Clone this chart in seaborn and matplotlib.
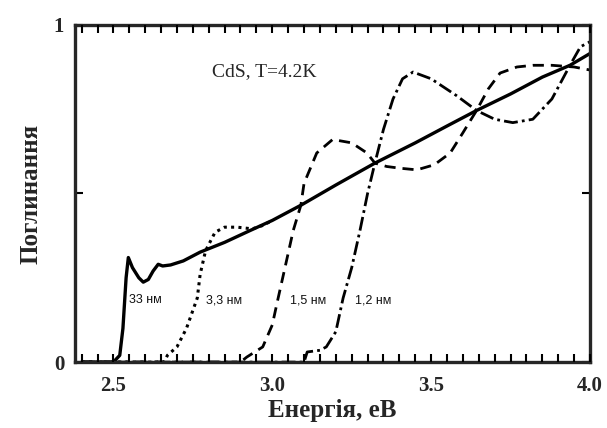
import numpy as np
import pandas as pd
import seaborn as sns
import matplotlib.pyplot as plt

# 33 nm (solid)
e33 = [2.40, 2.50, 2.52, 2.53, 2.54, 2.547, 2.56, 2.58, 2.594, 2.61, 2.625, 2.641, 2.655,
       2.68, 2.72, 2.773, 2.85, 2.93, 3.0, 3.09, 3.2, 3.323, 3.45, 3.55, 3.643, 3.75,
       3.85, 3.937, 4.0]
a33 = [0.0, 0.0, 0.02, 0.10, 0.25, 0.31, 0.28, 0.25, 0.237, 0.245, 0.27, 0.29, 0.285,
       0.288, 0.30, 0.326, 0.355, 0.39, 0.42, 0.465, 0.525, 0.59, 0.65, 0.70, 0.746, 0.795,
       0.845, 0.88, 0.915]
# 3.3 nm (dotted)
e33b = [2.40, 2.66, 2.67, 2.70, 2.73, 2.764, 2.773, 2.79, 2.82, 2.85, 2.89, 2.937, 2.97, 3.0]
a33b = [0.0, 0.0, 0.02, 0.045, 0.10, 0.19, 0.26, 0.33, 0.385, 0.40, 0.40, 0.395, 0.405, 0.42]
# 1.5 nm (dashed)
e15 = [2.40, 2.90, 2.92, 2.97, 3.0, 3.015, 3.04, 3.066, 3.09, 3.10, 3.14, 3.19, 3.25,
       3.298, 3.323, 3.36, 3.40, 3.455, 3.51, 3.56, 3.60, 3.643, 3.68, 3.717, 3.77, 3.82,
       3.88, 3.95, 4.0]
a15 = [0.0, 0.0, 0.015, 0.045, 0.11, 0.175, 0.28, 0.39, 0.465, 0.53, 0.62, 0.66, 0.65,
       0.62, 0.59, 0.58, 0.575, 0.57, 0.585, 0.62, 0.68, 0.746, 0.81, 0.857, 0.875, 0.88,
       0.88, 0.875, 0.866]
# 1.2 nm (dash-dot)
e12 = [2.40, 3.10, 3.11, 3.15, 3.17, 3.20, 3.223, 3.25, 3.276, 3.30, 3.323, 3.35, 3.38,
       3.41, 3.443, 3.50, 3.58, 3.643, 3.70, 3.757, 3.82, 3.88, 3.937, 3.97, 4.0]
a12 = [0.0, 0.0, 0.03, 0.035, 0.045, 0.09, 0.19, 0.28, 0.39, 0.50, 0.59, 0.69, 0.78,
       0.84, 0.86, 0.84, 0.79, 0.746, 0.72, 0.71, 0.72, 0.78, 0.88, 0.935, 0.95]

labels = ["33 нм", "3,3 нм", "1,5 нм", "1,2 нм"]
label_x = [2.548, 2.79, 3.055, 3.26]
label_y = [0.183, 0.183, 0.183, 0.183]

xticks = [2.5, 3.0, 3.5, 4.0]
xticklabels = ['2.5', '3.0', '3.5', '4.0']
xminor = [round(2.40 + 0.05 * i, 2) for i in range(33)]

sns.set_style('ticks')
plt.rcParams['font.family'] = ['Liberation Serif', 'DejaVu Serif']

fig = plt.figure(figsize=(6.07, 4.28), dpi=100)
ax = fig.add_axes([0.124, 0.154, 0.848, 0.788])

series = [(e33, a33, '-', 2.4), (e33b, a33b, (0, (1, 1.4)), 2.2),
          (e15, a15, (0, (4, 2.5)), 2.0), (e12, a12, (0, (5, 1.5, 1, 1.5)), 2.0)]
for e, a, ls, lw in series:
    df = pd.DataFrame(dict(E=e, A=a))
    sns.lineplot(data=df, x='E', y='A', ax=ax, color='black', lw=lw, linestyle=ls,
                 sort=False)

for t, x, y in zip(labels, label_x, label_y):
    ax.text(x, y, t, fontsize=9, family=['Liberation Sans', 'DejaVu Sans'],
            color='#111111', va='center')

ax.text(2.81, 0.86, "CdS, T=4.2K", fontsize=14, va='center')

ax.set_xlim(2.38, 4.0)
ax.set_ylim(0, 1)
ax.set_xticks(xticks, labels=xticklabels)
ax.set_xticks(xminor, minor=True)
ax.set_yticks([0, 0.5, 1], labels=['0', '', '1'])
ax.tick_params(which='both', direction='in', top=True, right=True, width=1.5,
               length=6, color='black', labelsize=15)
ax.tick_params(axis='x', pad=10)
ax.tick_params(axis='y', pad=8)
for lab in ax.get_xticklabels() + ax.get_yticklabels():
    lab.set_fontweight('bold')
for s in ax.spines.values():
    s.set_linewidth(2.4)

ax.set_xlabel("Енергія, еВ", fontsize=18, fontweight='bold', labelpad=2)
ax.set_ylabel("Поглинання", fontsize=18, fontweight='bold', labelpad=8)

# make sure the inward x ticks are drawn on top of everything
fig.canvas.draw()
for tk in ax.xaxis.get_major_ticks() + ax.xaxis.get_minor_ticks():
    for ln in (tk.tick1line, tk.tick2line):
        ln.set_visible(True)
        ln.set_markersize(6)
        ln.set_markeredgewidth(1.5)
        ln.set_color('black')
        ln.set_zorder(5)
ax.xaxis.set_zorder(5)

fig.savefig('out.png', dpi=100)
